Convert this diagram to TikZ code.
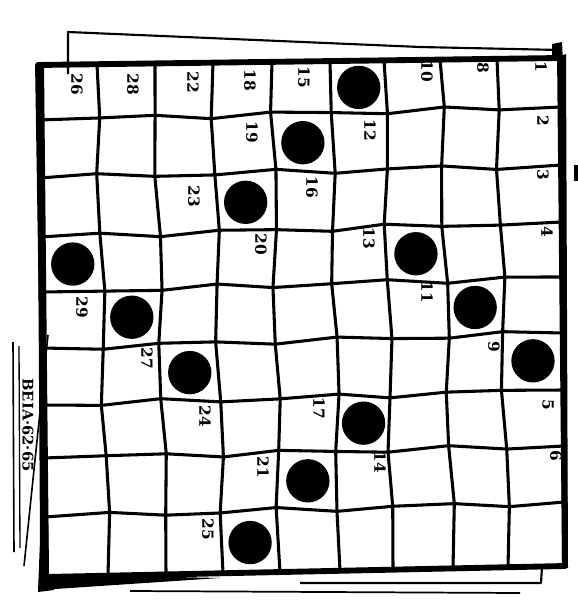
\documentclass[tikz,border=0pt]{standalone}
\usepackage{fontspec}
\newfontfamily\numfont{DejaVu Serif}
\usetikzlibrary{calc}
\begin{document}
\begin{tikzpicture}[x=0.75pt,y=-0.75pt,
  gridline/.style={line width=2.3pt,line join=round,line cap=round},
  border/.style={line width=4.4pt,line join=round},
  sheet/.style={line width=1.6pt,line join=round},
  dot/.style={circle,fill=black,minimum size=32.5pt,inner sep=0pt},
  num/.style={font=\numfont\fontsize{11.5}{11.5}\selectfont\bfseries,rotate=-90,inner sep=0pt},
  lab/.style={font=\numfont\fontsize{11}{11}\selectfont\bfseries,rotate=-90,inner sep=0pt}]
\useasboundingbox (0,0) rectangle (578,600);
% background sheet
\draw[sheet] (68,74) -- (68,32) -- (420,47) -- (560,50);
\fill (552,44) -- (562,42) -- (563,62) -- (552,60) -- cycle;
\draw[sheet] (300,583) -- (541,583) -- (542,566);
\draw[line width=1.3pt] (130,591) -- (520,593);
\fill (574,165) rectangle (578,181);
% label frame on the left
\draw[line width=1.2pt] (13,342) -- (14,552);
\draw[line width=1pt] (19,346) -- (20,548);
\draw[line width=1.2pt] (48,335) -- (24,566);
\node[lab] (side) at (28,425) {BEIA·62·65};
% grid coordinates
\foreach \i in {0,...,9}{
  \foreach \j in {0,...,9}{
    \pgfmathsetmacro\xt{{38,97,155,213,272,330,384,440,497,560}[\j]}
    \pgfmathsetmacro\xb{{46,108,166,223,280,340,393,453,508,565}[\j]}
    \pgfmathsetmacro\yl{{65,120,178,237,292,348,405,458,517,577}[\i]}
    \pgfmathsetmacro\yr{{58,107,165,222,277,333,390,446,502,566}[\i]}
    \pgfmathsetmacro\w{(\i>0)*(\i<9)*(\j>0)*(\j<9)}
    \pgfmathsetmacro\X{\xt+(\xb-\xt)*\i/9+\w*3*sin(\i*97+\j*53)}
    \pgfmathsetmacro\Y{\yl+(\yr-\yl)*\j/9+\w*3*sin(\i*61+\j*131)}
    \coordinate (p-\i-\j) at (\X,\Y);
  }
}
% interior lines
\foreach \i in {1,...,8}{
  \draw[gridline] (p-\i-0) \foreach \j in {1,...,9}{ -- (p-\i-\j)};
}
\foreach \j in {1,...,8}{
  \draw[gridline] (p-0-\j) \foreach \i in {1,...,9}{ -- (p-\i-\j)};
}
% border
\draw[border] (p-0-0) -- (p-0-9) -- (p-9-9) -- (p-9-0) -- cycle;
\fill (37,62) -- (44,62) -- (49,575) -- (54,590) -- (38,592) -- (40,540) -- cycle;
\fill (40,574) -- (220,578) -- (40,590) -- cycle;
\fill (560,56) -- (566,54) -- (568,568) -- (562,566) -- cycle;
% dots
\foreach \r/\c/\n in {1/6/a,2/5/b,3/4/c,4/1/d,4/7/e,5/2/f,5/8/g,6/3/h,6/9/i,7/6/j,8/5/k,9/4/l}{
  \pgfmathtruncatemacro\ra{\r-1}
  \pgfmathtruncatemacro\ca{\c-1}
  \node[dot] (dot-\n) at ($(p-\ra-\ca)!0.5!(p-\r-\c)$) {};
}
% numbers
\node[num] (n26) at (77,84) {26};
\node[num] (n28) at (133,84) {28};
\node[num] (n22) at (193,82) {22};
\node[num] (n18) at (250,80) {18};
\node[num] (n15) at (304,77) {15};
\node[num] (n10) at (427,71) {10};
\node[num] (n8) at (483,68) {8};
\node[num] (n1) at (541,67) {1};
\node[num] (n19) at (252,132) {19};
\node[num] (n12) at (370,130) {12};
\node[num] (n2) at (543,121) {2};
\node[num] (n23) at (194,196) {23};
\node[num] (n16) at (312,187) {16};
\node[num] (n3) at (543,175) {3};
\node[num] (n20) at (261,244) {20};
\node[num] (n13) at (369,238) {13};
\node[num] (n4) at (547,232) {4};
\node[num] (n29) at (82,307) {29};
\node[num] (n11) at (427,292) {11};
\node[num] (n27) at (147,358) {27};
\node[num] (n9) at (494,347) {9};
\node[num] (n24) at (205,416) {24};
\node[num] (n17) at (319,408) {17};
\node[num] (n5) at (548,405) {5};
\node[num] (n21) at (263,467) {21};
\node[num] (n14) at (380,462) {14};
\node[num] (n6) at (556,456) {6};
\node[num] (n25) at (208,529) {25};
\end{tikzpicture}
\end{document}
